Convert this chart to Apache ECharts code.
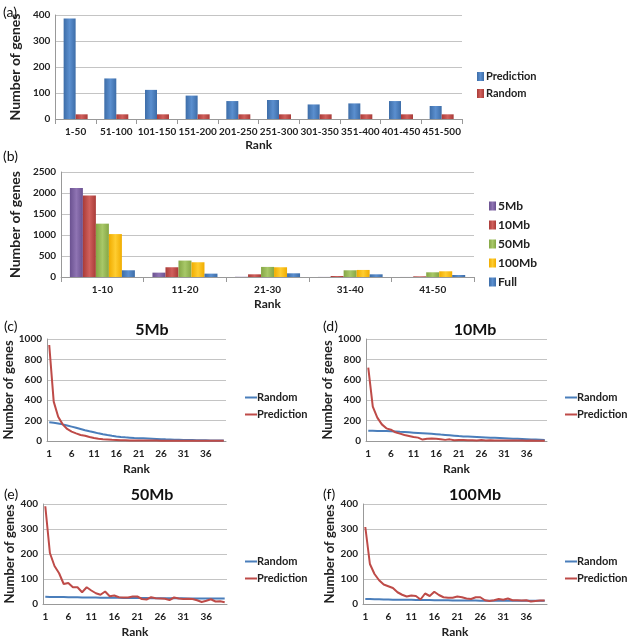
<!DOCTYPE html>
<html><head><meta charset="utf-8">
<script src="https://cdn.jsdelivr.net/npm/echarts@6/dist/echarts.min.js"></script>
<style>html,body{margin:0;padding:0;background:#fff}#c{width:629px;height:639px}</style>
</head><body><div id="c"></div>
<script>
// ---- Panel (a) ----
var rankBins500 = ['1-50','51-100','101-150','151-200','201-250','251-300','301-350','351-400','401-450','451-500'];
var aPrediction = [387,156,112,90,69,73,56,60,69,50];
var aRandom = [18,18,18,18,18,18,18,18,18,18];
// ---- Panel (b) ----
var rankBins50 = ['1-10','11-20','21-30','31-40','41-50'];
var b5Mb = [2117,104,5,2,1];
var b10Mb = [1941,232,64,24,16];
var b50Mb = [1270,391,240,160,112];
var b100Mb = [1022,351,232,168,136];
var bFull = [160,80,88,64,48];
// ---- Panels (c)-(f) ----
var ranks = [];
for (var i = 1; i <= 40; i++) ranks.push(String(i));
var cPrediction = [941,386,238,163,118,92,75,59,52,39,29,23,18,15,12,10,8,7,6,5,5,4,4,4,4,3,3,3,3,3,3,3,3,2,2,2,2,2,2,2];
var cRandom = [183,178,172,163,152,141,130,118,106,95,85,75,66,58,51,45,40,36,33,30,28,26,24,22,20,18,16,15,13,12,11,10,9,8,7,7,6,5,5,4];
var dPrediction = [719,337,229,163,124,111,85,72,59,49,39,33,14,23,24,21,16,11,16,8,10,9,8,7,6,9,5,7,6,5,5,4,4,5,4,3,4,3,3,3];
var dRandom = [101,100,99,98,97,95,93,90,88,85,82,79,76,73,70,67,63,60,56,52,48,45,43,41,39,37,35,33,31,29,27,25,23,21,19,17,15,14,12,10];
var ePrediction = [391,204,152,123,80,84,67,67,47,67,54,43,37,50,31,34,27,26,26,30,30,20,18,27,23,22,21,16,26,22,20,21,20,15,8,13,19,10,11,7];
var eRandom = [29,28,28,28,28,27,27,27,26,26,26,26,25,25,25,25,25,24,24,24,24,24,24,23,23,23,23,23,23,23,23,22,22,22,22,22,22,22,22,22];
var fPrediction = [308,160,120,95,78,71,64,47,37,30,34,32,18,42,32,49,36,27,25,25,30,27,22,20,27,27,15,12,15,20,17,22,15,15,14,15,10,12,14,14];
var fRandom = [20,20,19,19,18,18,17,17,17,17,17,16,16,16,16,15,15,15,15,14,14,14,14,14,14,13,13,13,13,13,13,13,13,13,13,13,13,13,13,13];

var FONT = 'Lato';
var TXT = '#222';
var GRIDC = '#c4c4c4';

function grad(c1, c2) {
  return new echarts.graphic.LinearGradient(0,0,1,0,[{offset:0,color:c1},{offset:0.5,color:c2},{offset:1,color:c1}]);
}
var BLUE = grad('#3d6da8','#5b8fcf');
var RED = grad('#a93b38','#d0605c');
var PURPLE = grad('#6a5190','#8f74b3');
var GREEN = grad('#85a645','#a8c868');
var YELLOW = grad('#f0ac00','#ffcd30');

function yAx(grid, max, interval, gap, nsize) {
  return {gridIndex: grid, type: 'value', min: 0, max: max, interval: interval,
    name: 'Number of genes', nameLocation: 'middle', nameGap: gap,
    nameTextStyle: {fontFamily: FONT, fontWeight: 'bold', fontSize: nsize, color: TXT},
    axisLine: {show: true, lineStyle: {color: '#999'}}, axisTick: {show: false},
    axisLabel: {fontFamily: FONT, fontWeight: 'bold', fontSize: 10, color: TXT, margin: 5,
      formatter: function (v) { return String(v); }},
    splitLine: {lineStyle: {color: GRIDC, width: 1}}};
}
function xAx(grid, data, gap, interval) {
  return {gridIndex: grid, type: 'category', data: data, name: 'Rank', nameLocation: 'middle', nameGap: gap,
    nameTextStyle: {fontFamily: FONT, fontWeight: 'bold', fontSize: 12, color: TXT},
    axisLine: {lineStyle: {color: '#999'}}, axisTick: {show: interval === undefined, lineStyle: {color: '#999'}},
    axisLabel: {fontFamily: FONT, fontWeight: 'bold', fontSize: 10, color: TXT, margin: 8, interval: interval === undefined ? 0 : interval}};
}
function lineSeries(name, idx, data, color) {
  return {type: 'line', name: name, xAxisIndex: idx, yAxisIndex: idx, data: data, showSymbol: false, symbol: 'none',
    lineStyle: {color: color, width: 2}, itemStyle: {color: color}, animation: false};
}
function barSeries(name, idx, data, color, w) {
  return {type: 'bar', name: name, xAxisIndex: idx, yAxisIndex: idx, data: data, barWidth: w, barGap: '0%',
    itemStyle: {color: color}, animation: false};
}
var LBLUE = '#4a7ebb', LRED = '#be4b48';
function lineLegend(left, top) {
  return {orient: 'vertical', left: left, top: top, itemGap: 6, itemWidth: 12, itemHeight: 2, icon: 'rect', padding: 0,
    textStyle: {fontFamily: FONT, fontWeight: 'bold', fontSize: 11, color: TXT, padding: [0,0,0,-5]},
    formatter: function (n) { return n.split('#')[0]; },
    data: ['Random#L', 'Prediction#L'], selectedMode: false};
}
function ttl(text, left, top, size, bold, align) {
  return {text: text, left: left, top: top, textAlign: align || 'left', padding: 0,
    textStyle: {fontFamily: FONT, fontSize: size, fontWeight: bold ? 'bold' : 'normal', color: '#111'}};
}

var option = {
  backgroundColor: '#fff',
  animation: false,
  title: [
    ttl('(a)', 3, 5, 14, false), ttl('(b)', 3, 149, 14, false),
    ttl('(c)', 4, 319, 14, false), ttl('(d)', 323, 319, 14, false),
    ttl('(e)', 4, 487, 14, false), ttl('(f)', 323, 487, 14, false),
    ttl('5Mb', 152, 322, 16, true, 'center'), ttl('10Mb', 475, 322, 16, true, 'center'),
    ttl('50Mb', 152, 487, 16, true, 'center'), ttl('100Mb', 475, 487, 16, true, 'center')
  ],
  grid: [
    {left: 38, top: 15, width: 424, height: 104},
    {left: 39, top: 172, width: 435, height: 105},
    {left: 47, top: 339, width: 179, height: 102},
    {left: 366, top: 339, width: 181, height: 102},
    {left: 43, top: 504, width: 184, height: 101},
    {left: 363, top: 504, width: 184, height: 101}
  ],
  xAxis: [
    xAx(0, rankBins500, 20), xAx(1, rankBins50, 21),
    xAx(2, ranks, 22, 4), xAx(3, ranks, 22, 4), xAx(4, ranks, 22, 4), xAx(5, ranks, 22, 4)
  ],
  yAxis: [
    yAx(0, 400, 100, 22, 14), yAx(1, 2500, 500, 25, 14),
    yAx(2, 1000, 200, 29, 13), yAx(3, 1000, 200, 27, 13), yAx(4, 400, 100, 24, 13), yAx(5, 400, 100, 24, 13)
  ],
  legend: [
    {orient: 'vertical', left: 472, top: 66, itemGap: 6, itemWidth: 7, itemHeight: 9, icon: 'rect',
      textStyle: {fontFamily: FONT, fontWeight: 'bold', fontSize: 11, color: TXT, padding: [0,0,0,-3]},
      data: ['Prediction', 'Random'], selectedMode: false},
    {orient: 'vertical', left: 484, top: 195, itemGap: 7, itemWidth: 7, itemHeight: 9, icon: 'rect',
      textStyle: {fontFamily: FONT, fontWeight: 'bold', fontSize: 12, color: TXT, padding: [0,0,0,-3]},
      data: ['5Mb', '10Mb', '50Mb', '100Mb', 'Full'], selectedMode: false},
    lineLegend(245, 392), lineLegend(565, 392), lineLegend(245, 556), lineLegend(565, 556)
  ],
  series: [
    barSeries('Prediction', 0, aPrediction, BLUE, 12),
    barSeries('Random', 0, aRandom, RED, 12),
    barSeries('5Mb', 1, b5Mb, PURPLE, 13),
    barSeries('10Mb', 1, b10Mb, RED, 13),
    barSeries('50Mb', 1, b50Mb, GREEN, 13),
    barSeries('100Mb', 1, b100Mb, YELLOW, 13),
    barSeries('Full', 1, bFull, BLUE, 13),
    lineSeries('Random#L', 2, cRandom, LBLUE), lineSeries('Prediction#L', 2, cPrediction, LRED),
    lineSeries('Random#L', 3, dRandom, LBLUE), lineSeries('Prediction#L', 3, dPrediction, LRED),
    lineSeries('Random#L', 4, eRandom, LBLUE), lineSeries('Prediction#L', 4, ePrediction, LRED),
    lineSeries('Random#L', 5, fRandom, LBLUE), lineSeries('Prediction#L', 5, fPrediction, LRED)
  ]
};
var chart = echarts.init(document.getElementById('c'), null, {renderer: 'canvas'});
chart.setOption(option);
</script></body></html>
